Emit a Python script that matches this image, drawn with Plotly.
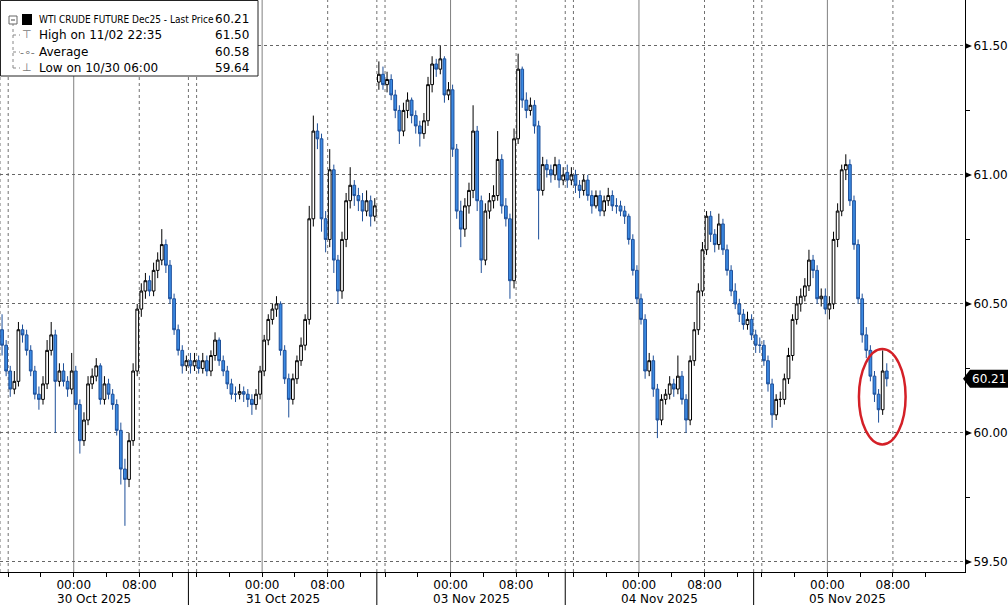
import plotly.graph_objects as go

# ---------------- data (30-minute bars, session starts 15:00 previous day) ----------------
SESSION_DATES = ["30 Oct 2025", "31 Oct 2025", "03 Nov 2025", "04 Nov 2025", "05 Nov 2025"]

s1_open = [60.40, 60.34, 60.24, 60.17, 60.20, 60.40, 60.38, 60.32, 60.24, 60.15,
           60.13, 60.19, 60.32, 60.38, 60.20, 60.24, 60.20, 60.17, 60.24, 60.11,
           59.97, 60.05, 60.19, 60.22, 60.26, 60.13, 60.19, 60.15, 60.11, 60.01,
           59.86, 59.82, 59.97, 60.24, 60.48, 60.55, 60.59, 60.55, 60.63, 60.67,
           60.73, 60.65, 60.52, 60.40, 60.32, 60.26]
s1_high = [60.46, 60.36, 60.26, 60.24, 60.43, 60.42, 60.40, 60.34, 60.26, 60.18,
           60.22, 60.36, 60.43, 60.40, 60.27, 60.27, 60.22, 60.31, 60.26, 60.13,
           60.08, 60.22, 60.25, 60.29, 60.27, 60.22, 60.21, 60.17, 60.13, 60.04,
           59.90, 60.00, 60.27, 60.50, 60.58, 60.62, 60.61, 60.66, 60.70, 60.79,
           60.75, 60.67, 60.54, 60.42, 60.34, 60.30]
s1_low = [60.30, 60.22, 60.14, 60.15, 60.18, 60.35, 60.30, 60.22, 60.13, 60.09,
          60.11, 60.17, 60.30, 60.00, 60.18, 60.18, 60.14, 60.15, 60.09, 59.92,
          59.95, 60.03, 60.17, 60.20, 60.11, 60.11, 60.13, 60.09, 59.99, 59.80,
          59.64, 59.79, 59.95, 60.22, 60.45, 60.52, 60.53, 60.53, 60.60, 60.65,
          60.62, 60.50, 60.38, 60.30, 60.23, 60.24]
s1_close = [60.34, 60.24, 60.17, 60.20, 60.40, 60.38, 60.32, 60.24, 60.15, 60.13,
            60.19, 60.32, 60.38, 60.20, 60.24, 60.20, 60.17, 60.24, 60.11, 59.97,
            60.05, 60.19, 60.22, 60.26, 60.13, 60.19, 60.15, 60.11, 60.01, 59.86,
            59.82, 59.97, 60.24, 60.48, 60.55, 60.59, 60.55, 60.63, 60.67, 60.73,
            60.65, 60.52, 60.40, 60.32, 60.26, 60.28]

s2_open = [60.28, 60.26, 60.28, 60.25, 60.28, 60.24, 60.30, 60.36, 60.28, 60.24,
           60.19, 60.15, 60.15, 60.16, 60.15, 60.13, 60.11, 60.15, 60.24, 60.36,
           60.44, 60.48, 60.50, 60.32, 60.21, 60.13, 60.21, 60.28, 60.34, 60.44,
           60.83, 61.17, 61.14, 60.83, 60.75, 61.02, 60.67, 60.55, 60.75, 60.90,
           60.96, 60.92, 60.90, 60.86, 60.90, 60.84]
s2_high = [60.31, 60.31, 60.30, 60.31, 60.30, 60.32, 60.39, 60.37, 60.30, 60.26,
           60.21, 60.18, 60.19, 60.18, 60.17, 60.15, 60.17, 60.26, 60.38, 60.46,
           60.50, 60.53, 60.51, 60.34, 60.23, 60.23, 60.30, 60.37, 60.46, 60.88,
           61.23, 61.20, 61.16, 60.86, 61.10, 61.04, 60.69, 60.78, 60.93, 61.03,
           60.98, 60.95, 60.93, 60.94, 60.92, 60.91]
s2_low = [60.23, 60.24, 60.23, 60.23, 60.22, 60.22, 60.28, 60.26, 60.22, 60.17,
          60.13, 60.12, 60.13, 60.12, 60.10, 60.07, 60.09, 60.13, 60.22, 60.34,
          60.42, 60.45, 60.30, 60.19, 60.06, 60.11, 60.19, 60.26, 60.32, 60.42,
          60.80, 61.10, 60.78, 60.70, 60.72, 60.62, 60.50, 60.52, 60.72, 60.87,
          60.88, 60.86, 60.82, 60.84, 60.80, 60.82]
s2_close = [60.26, 60.28, 60.25, 60.28, 60.24, 60.30, 60.36, 60.28, 60.24, 60.19,
            60.15, 60.15, 60.16, 60.15, 60.13, 60.11, 60.15, 60.24, 60.36, 60.44,
            60.48, 60.50, 60.32, 60.21, 60.13, 60.21, 60.28, 60.34, 60.44, 60.83,
            61.17, 61.14, 60.83, 60.75, 61.02, 60.67, 60.55, 60.75, 60.90, 60.96,
            60.92, 60.90, 60.86, 60.90, 60.84, 60.88]

s3_open = [61.36, 61.39, 61.35, 61.37, 61.31, 61.25, 61.17, 61.25, 61.29, 61.23,
           61.19, 61.16, 61.21, 61.35, 61.43, 61.41, 61.45, 61.31, 61.33, 61.10,
           60.86, 60.79, 60.88, 60.94, 61.17, 60.90, 60.67, 60.86, 60.90, 60.92,
           61.06, 60.88, 60.83, 60.59, 61.14, 61.41, 61.29, 61.25, 61.27, 61.19,
           60.94, 61.04, 61.02, 61.00, 61.04, 60.98]
s3_high = [61.44, 61.42, 61.40, 61.39, 61.33, 61.27, 61.28, 61.32, 61.30, 61.25,
           61.21, 61.24, 61.38, 61.46, 61.45, 61.50, 61.46, 61.36, 61.35, 61.12,
           60.90, 60.91, 60.97, 61.27, 61.19, 60.92, 60.89, 60.93, 60.96, 61.17,
           61.08, 60.91, 60.85, 61.18, 61.47, 61.42, 61.32, 61.30, 61.29, 61.21,
           61.07, 61.06, 61.04, 61.07, 61.06, 61.03]
s3_low = [61.33, 61.33, 61.32, 61.29, 61.22, 61.12, 61.15, 61.22, 61.20, 61.16,
          61.11, 61.14, 61.19, 61.32, 61.38, 61.39, 61.28, 61.29, 61.07, 60.83,
          60.72, 60.76, 60.85, 60.91, 60.86, 60.62, 60.65, 60.83, 60.87, 60.90,
          60.85, 60.80, 60.52, 60.56, 61.12, 61.26, 61.22, 61.23, 61.16, 60.75,
          60.92, 60.99, 60.97, 60.98, 60.95, 60.96]
s3_close = [61.39, 61.35, 61.37, 61.31, 61.25, 61.17, 61.25, 61.29, 61.23, 61.19,
            61.16, 61.21, 61.35, 61.43, 61.41, 61.45, 61.31, 61.33, 61.10, 60.86,
            60.79, 60.88, 60.94, 61.17, 60.90, 60.67, 60.86, 60.90, 60.92, 61.06,
            60.88, 60.83, 60.59, 61.14, 61.41, 61.29, 61.25, 61.27, 61.19, 60.94,
            61.04, 61.02, 61.00, 61.04, 60.98, 61.00]

s4_open = [61.01, 60.98, 61.00, 60.96, 60.94, 60.98, 60.92, 60.88, 60.92, 60.86,
           60.90, 60.92, 60.88, 60.88, 60.86, 60.84, 60.75, 60.63, 60.52, 60.44,
           60.24, 60.28, 60.17, 60.05, 60.13, 60.15, 60.19, 60.17, 60.22, 60.13,
           60.05, 60.28, 60.40, 60.55, 60.71, 60.84, 60.77, 60.73, 60.81, 60.71,
           60.63, 60.55, 60.50, 60.46, 60.42, 60.44]
s4_high = [61.04, 61.03, 61.02, 60.98, 61.00, 61.00, 60.94, 60.94, 60.94, 60.92,
           60.95, 60.94, 60.91, 60.90, 60.88, 60.85, 60.77, 60.65, 60.54, 60.46,
           60.31, 60.30, 60.19, 60.15, 60.17, 60.22, 60.21, 60.30, 60.24, 60.15,
           60.30, 60.43, 60.58, 60.74, 60.86, 60.86, 60.79, 60.85, 60.83, 60.73,
           60.65, 60.58, 60.52, 60.48, 60.47, 60.46]
s4_low = [60.95, 60.96, 60.93, 60.91, 60.92, 60.90, 60.85, 60.87, 60.84, 60.84,
          60.88, 60.86, 60.85, 60.84, 60.81, 60.73, 60.61, 60.50, 60.42, 60.21,
          60.22, 60.14, 59.98, 60.03, 60.11, 60.13, 60.14, 60.15, 60.11, 60.00,
          60.03, 60.26, 60.38, 60.53, 60.69, 60.74, 60.70, 60.71, 60.69, 60.61,
          60.53, 60.48, 60.43, 60.40, 60.40, 60.36]
s4_close = [60.98, 61.00, 60.96, 60.94, 60.98, 60.92, 60.88, 60.92, 60.86, 60.90,
            60.92, 60.88, 60.88, 60.86, 60.84, 60.75, 60.63, 60.52, 60.44, 60.24,
            60.28, 60.17, 60.05, 60.13, 60.15, 60.19, 60.17, 60.22, 60.13, 60.05,
            60.28, 60.40, 60.55, 60.71, 60.84, 60.77, 60.73, 60.81, 60.71, 60.63,
            60.55, 60.50, 60.46, 60.42, 60.44, 60.38]

s5_open = [60.38, 60.34, 60.34, 60.28, 60.19, 60.07, 60.13, 60.13, 60.21, 60.30,
           60.44, 60.50, 60.53, 60.57, 60.67, 60.63, 60.52, 60.53, 60.48, 60.50,
           60.75, 60.86, 61.02, 61.04, 60.90, 60.73, 60.52, 60.38, 60.32, 60.22,
           60.15, 60.09, 60.24]
s5_high = [60.40, 60.37, 60.36, 60.30, 60.21, 60.15, 60.16, 60.23, 60.33, 60.46,
           60.53, 60.56, 60.60, 60.71, 60.69, 60.65, 60.56, 60.56, 60.53, 60.78,
           60.89, 61.04, 61.08, 61.06, 60.92, 60.75, 60.54, 60.41, 60.34, 60.24,
           60.17, 60.32, 60.27]
s5_low = [60.31, 60.31, 60.26, 60.16, 60.02, 60.05, 60.10, 60.11, 60.19, 60.28,
          60.42, 60.47, 60.51, 60.55, 60.60, 60.50, 60.49, 60.46, 60.44, 60.48,
          60.72, 60.84, 60.98, 60.88, 60.71, 60.50, 60.35, 60.29, 60.20, 60.12,
          60.04, 60.07, 60.18]
s5_close = [60.34, 60.34, 60.28, 60.19, 60.07, 60.13, 60.13, 60.21, 60.30, 60.44,
            60.50, 60.53, 60.57, 60.67, 60.63, 60.52, 60.53, 60.48, 60.50, 60.75,
            60.86, 61.02, 61.04, 60.90, 60.73, 60.52, 60.38, 60.32, 60.22, 60.15,
            60.09, 60.24, 60.21]

Y_TICKS = [59.50, 60.00, 60.50, 61.00, 61.50]
Y_MINOR = [59.75, 60.25, 60.75, 61.25]
LEGEND_ROWS = [("WTI CRUDE FUTURE Dec25 - Last Price", "60.21"),
               ("High on 11/02 22:35", "61.50"),
               ("Average", "60.58"),
               ("Low on 10/30 06:00", "59.64")]
LAST_PRICE = 60.21

# ---------------- layout constants ----------------
W, H = 1008, 605
ML, MR, MT, MB = 0, 43, 0, 33
PW, PH = W - ML - MR, H - MT - MB
SESSION_LEN = 23.0          # hours per session (15:00 -> 14:00)
BAR = 0.5                   # 30-minute bars
X_MAX = 117.8
Y_MIN, Y_MAX = 59.461, 61.678
FONT = "DejaVu Sans"
FONT_NARROW = "DejaVu Sans Condensed, Liberation Sans Narrow, Liberation Sans"

sessions = [
    (s1_open, s1_high, s1_low, s1_close),
    (s2_open, s2_high, s2_low, s2_close),
    (s3_open, s3_high, s3_low, s3_close),
    (s4_open, s4_high, s4_low, s4_close),
    (s5_open, s5_high, s5_low, s5_close),
]

xs, O, Hh, L, C = [], [], [], [], []
for s, (o, h, l, c) in enumerate(sessions):
    for i in range(len(c)):
        xs.append(s * SESSION_LEN + BAR / 2 + BAR * i)
    O += o
    Hh += h
    L += l
    C += c

fig = go.Figure()
fig.add_trace(go.Candlestick(
    x=xs, open=O, high=Hh, low=L, close=C,
    increasing=dict(line=dict(color="black", width=1), fillcolor="white"),
    decreasing=dict(line=dict(color="#1d4f99", width=1), fillcolor="#3b8ae3"),
    whiskerwidth=0, showlegend=False, hoverinfo="skip",
))

shapes = []
for s in range(len(SESSION_DATES)):
    base = s * SESSION_LEN
    shapes.append(dict(type="line", xref="x", yref="paper", x0=base + 9, x1=base + 9, y0=0, y1=1,
                       line=dict(color="#808080", width=1), layer="below"))
    for hh in (0, 1, 17):
        shapes.append(dict(type="line", xref="x", yref="paper", x0=base + hh, x1=base + hh, y0=0, y1=1,
                           line=dict(color="#707070", width=1, dash="dot"), layer="below"))
    if s > 0:
        shapes.append(dict(type="line", xref="x", yref="paper", x0=base, x1=base, y0=0, y1=-MB / PH,
                           line=dict(color="black", width=1)))

dy = 3.0 / PH * (Y_MAX - Y_MIN)
for v in Y_TICKS:
    shapes.append(dict(type="path", xref="paper", yref="y",
                       path=f"M 1.0 {v + dy} L {1.0 + 7 / PW} {v} L 1.0 {v - dy} Z",
                       fillcolor="black", line=dict(width=0)))

tag_h = 9.0 / PH * (Y_MAX - Y_MIN)
shapes.append(dict(type="path", xref="paper", yref="y",
                   path=(f"M {1.0 - 2 / PW} {LAST_PRICE} L {1.0 + 5 / PW} {LAST_PRICE + tag_h} "
                         f"L {1.0 + 43 / PW} {LAST_PRICE + tag_h} L {1.0 + 43 / PW} {LAST_PRICE - tag_h} "
                         f"L {1.0 + 5 / PW} {LAST_PRICE - tag_h} Z"),
                   fillcolor="black", line=dict(width=0)))

last_x = xs[-1]
recent_low = min(s5_low[-4:])
recent_high = max(s5_high[-4:])
shapes.append(dict(type="circle", xref="x", yref="y",
                   x0=last_x - 3.4, x1=last_x + 2.3,
                   y0=recent_low - 0.085, y1=recent_high + 0.005,
                   line=dict(color="#d42027", width=2.5)))

box_w, box_h = 258, 76
shapes.append(dict(type="rect", xref="paper", yref="paper", x0=0.5 / PW, x1=box_w / PW,
                   y0=1 - box_h / PH, y1=1 - 0.5 / PH,
                   fillcolor="white", line=dict(color="#222", width=1)))
shapes.append(dict(type="line", xref="paper", yref="paper", x0=13 / PW, x1=13 / PW,
                   y0=1 - 68 / PH, y1=1 - 24 / PH, line=dict(color="#888", width=1, dash="dot")))
for yy in (35, 52, 68):
    shapes.append(dict(type="line", xref="paper", yref="paper", x0=13 / PW, x1=20 / PW,
                       y0=1 - yy / PH, y1=1 - yy / PH, line=dict(color="#888", width=1, dash="dot")))
shapes.append(dict(type="rect", xref="paper", yref="paper", x0=9 / PW, x1=17 / PW,
                   y0=1 - 24 / PH, y1=1 - 16 / PH, line=dict(color="#666", width=1), fillcolor="white"))
shapes.append(dict(type="line", xref="paper", yref="paper", x0=11 / PW, x1=15 / PW,
                   y0=1 - 20 / PH, y1=1 - 20 / PH, line=dict(color="#444", width=1)))
shapes.append(dict(type="rect", xref="paper", yref="paper", x0=22 / PW, x1=32 / PW,
                   y0=1 - 25 / PH, y1=1 - 14 / PH, line=dict(width=0), fillcolor="black"))

annotations = []
row_y = [19, 35, 52, 68]
icons = ["", "\u22a4", "-\u2218-", "\u22a5"]
for k, ((label, val), yy, ic) in enumerate(zip(LEGEND_ROWS, row_y, icons)):
    annotations.append(dict(xref="paper", yref="paper", x=37 / PW, y=1 - yy / PH, text=label,
                            xanchor="left", yanchor="middle", showarrow=False,
                            font=dict(family=FONT_NARROW if k == 0 else FONT,
                                      size=10 if k == 0 else 12, color="black")))
    annotations.append(dict(xref="paper", yref="paper", x=251 / PW, y=1 - yy / PH, text=val,
                            xanchor="right", yanchor="middle", showarrow=False,
                            font=dict(family=FONT, size=12, color="black")))
    if ic:
        annotations.append(dict(xref="paper", yref="paper", x=27 / PW, y=1 - yy / PH, text=ic,
                                xanchor="center", yanchor="middle", showarrow=False,
                                font=dict(family=FONT, size=11, color="#777")))

for s, d in enumerate(SESSION_DATES):
    annotations.append(dict(xref="x", yref="paper", x=s * SESSION_LEN + SESSION_LEN / 2, y=0,
                            yshift=-27, text=d, showarrow=False, xanchor="center", yanchor="middle",
                            font=dict(family=FONT, size=12, color="black")))

annotations.append(dict(xref="paper", yref="y", x=1.0 + 24 / PW, y=LAST_PRICE, text=f"{LAST_PRICE:.2f}",
                        showarrow=False, xanchor="center", yanchor="middle",
                        font=dict(family=FONT, size=12, color="white")))

tickvals, ticktext = [], []
for s in range(len(SESSION_DATES)):
    for hh, lab in ((1, ""), (5, ""), (9, "00:00"), (13, ""), (17, "08:00"), (21, "")):
        tickvals.append(s * SESSION_LEN + hh)
        ticktext.append(lab)

fig.update_layout(
    width=W, height=H,
    margin=dict(l=ML, r=MR, t=MT, b=MB, autoexpand=False),
    paper_bgcolor="white", plot_bgcolor="white",
    showlegend=False, boxgap=0.05,
    shapes=shapes, annotations=annotations,
    xaxis=dict(range=[0, X_MAX], rangeslider=dict(visible=False), showgrid=False, zeroline=False,
               automargin=False, ticklabelstandoff=-2,
               tickvals=tickvals, ticktext=ticktext, ticks="outside", ticklen=4, tickcolor="black",
               showline=True, linecolor="black", linewidth=1,
               tickfont=dict(family=FONT, size=12, color="black")),
    yaxis=dict(range=[Y_MIN, Y_MAX], side="right", showgrid=True, gridcolor="#666", griddash="dot",
               gridwidth=1, zeroline=False, automargin=False,
               tickvals=Y_TICKS, ticktext=[f"{v:.2f}" for v in Y_TICKS],
               ticks="outside", ticklen=5, tickcolor="rgba(0,0,0,0)",
               minor=dict(tickvals=Y_MINOR, ticks="outside", ticklen=4, tickcolor="black", showgrid=False),
               showline=True, linecolor="black", linewidth=1,
               tickfont=dict(family=FONT, size=12, color="black")),
)

fig.write_html("out.html", config={"displayModeBar": False},
               post_script="document.body.style.margin='0';document.body.style.overflow='hidden';")
